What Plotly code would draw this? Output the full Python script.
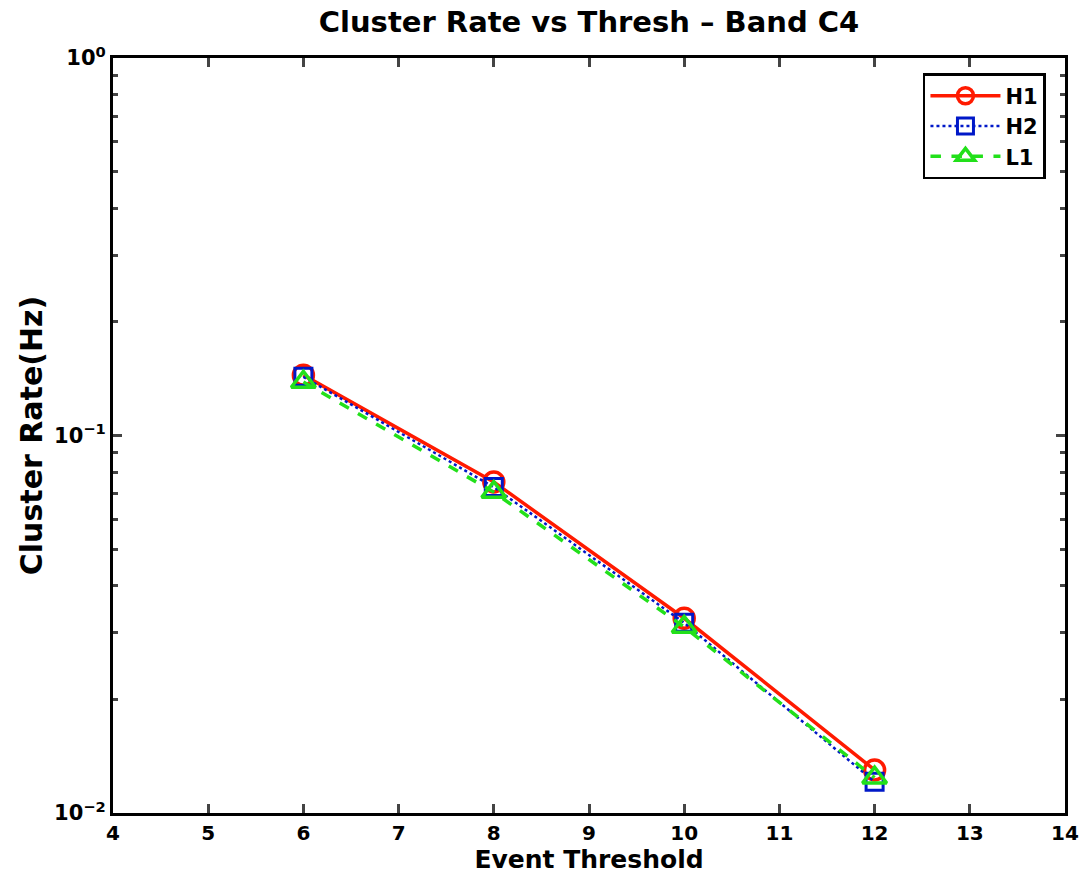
import plotly.graph_objects as go

thresholds = [6, 8, 10, 12]
h1_rate = [0.1445, 0.0753, 0.0328, 0.0130]
h2_rate = [0.143, 0.0730, 0.0319, 0.0121]
l1_rate = [0.1386, 0.0708, 0.0311, 0.0124]

x_ticks = list(range(4, 15))
y_tickvals = [0.01, 0.1, 1]
y_ticktext = ["10<sup>\u22122</sup>", "10<sup>\u22121</sup>", "10<sup>0</sup>"]
y_minor_ticks = [m * d for d in (0.01, 0.1) for m in range(2, 10)]

FONT = "DejaVu Sans, Liberation Sans, Arial, sans-serif"

fig = go.Figure()
fig.add_trace(go.Scatter(
    x=thresholds, y=h1_rate, name="H1", mode="lines+markers",
    line=dict(color="#ff1a00", width=3.5, dash="solid"),
    marker=dict(symbol="circle-open", size=20, color="#ff1a00", line=dict(width=3.5)),
))
fig.add_trace(go.Scatter(
    x=thresholds, y=h2_rate, name="H2", mode="lines+markers",
    line=dict(color="#0018c8", width=2.5, dash="dot"),
    marker=dict(symbol="square-open", size=17, color="#0018c8", line=dict(width=3)),
))
fig.add_trace(go.Scatter(
    x=thresholds, y=l1_rate, name="L1", mode="lines+markers",
    line=dict(color="#22e01a", width=3.5, dash="dash"),
    marker=dict(symbol="triangle-up-open", size=21, color="#22e01a", line=dict(width=3.5)),
))

fig.update_layout(
    width=1091, height=879,
    margin=dict(l=113, r=24, t=58, b=66),
    paper_bgcolor="white", plot_bgcolor="white",
    font=dict(family=FONT, color="black", size=20, weight="bold"),
    title=dict(text="Cluster Rate vs Thresh \u2013 Band C4", x=0.5, xref="paper",
               xanchor="center", y=0.975, yanchor="middle",
               font=dict(family=FONT, size=29, color="black", weight="bold")),
    xaxis=dict(
        range=[4, 14], tickvals=x_ticks, ticks="inside", ticklen=9, tickwidth=2.5,
        showline=True, linecolor="black", linewidth=3, mirror="ticks",
        showgrid=False, zeroline=False,
        title=dict(text="Event Threshold", standoff=2,
                   font=dict(family=FONT, size=25, color="black", weight="bold")),
        tickfont=dict(family=FONT, size=20, color="black", weight="bold"),
    ),
    yaxis=dict(
        type="log", range=[-2, 0], tickvals=y_tickvals, ticktext=y_ticktext,
        ticks="inside", ticklen=9, tickwidth=2.5,
        minor=dict(tickvals=y_minor_ticks, ticks="inside", ticklen=5, tickwidth=2.5,
                   showgrid=False),
        showline=True, linecolor="black", linewidth=3, mirror="ticks",
        showgrid=False, zeroline=False,
        title=dict(text="Cluster Rate(Hz)", standoff=3,
                   font=dict(family=FONT, size=30, color="black", weight="bold")),
        tickfont=dict(family=FONT, size=21, color="black", weight="bold"),
    ),
    legend=dict(
        x=0.98, y=0.98, xanchor="right", yanchor="top",
        bgcolor="white", bordercolor="black", borderwidth=2.5,
        font=dict(family=FONT, size=21, color="black", weight="bold"),
        tracegroupgap=0, itemwidth=70,
    ),
)

fig.write_html("out.html")
